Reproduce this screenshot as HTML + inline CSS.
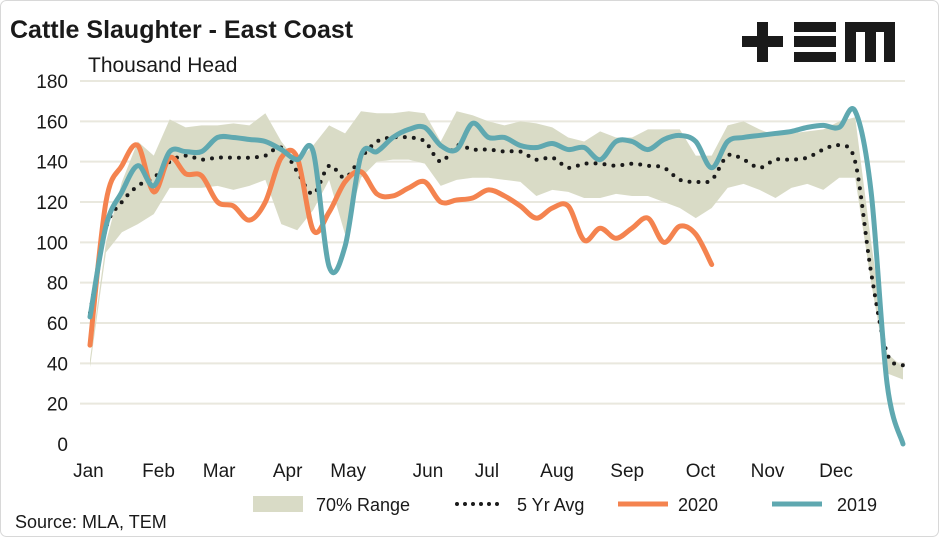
<!DOCTYPE html>
<html><head><meta charset="utf-8"><style>
html,body{margin:0;padding:0;background:#fff}
svg{display:block;font-family:"Liberation Sans",sans-serif}
</style></head><body>
<svg id="c" width="939" height="537" viewBox="0 0 939 537" xmlns="http://www.w3.org/2000/svg">
<rect x="0.5" y="0.5" width="938" height="536" rx="6" fill="#fff" stroke="#d8d8d8"/>
<text x="10" y="38" font-size="25" font-weight="bold" fill="#1a1a1a">Cattle Slaughter - East Coast</text>
<text x="88" y="72" font-size="21" fill="#1a1a1a">Thousand Head</text>
<g fill="#1a1a1a">
<rect x="742" y="36" width="41" height="11"/><rect x="757" y="22" width="11" height="40"/>
<rect x="794" y="22" width="42" height="10"/><rect x="794" y="36" width="42" height="11"/><rect x="794" y="52" width="42" height="10"/>
<rect x="845" y="22" width="50" height="10"/><rect x="845" y="22" width="11" height="40"/><rect x="865" y="22" width="11" height="40"/><rect x="884" y="22" width="11" height="40"/>
</g>
<g id="grid"></g><g id="band"></g><g id="lines"></g><g id="axes"></g>
<g>
<rect x="253" y="496" width="50" height="16" fill="#d9dbc6"/>
<text x="316" y="511" font-size="18" fill="#1a1a1a">70% Range</text>
<line x1="457" y1="504" x2="505" y2="504" stroke="#1a1a1a" stroke-width="4" stroke-linecap="round" stroke-dasharray="0 8"/>
<text x="517" y="511" font-size="18" fill="#1a1a1a">5 Yr Avg</text>
<line x1="618" y1="504" x2="668" y2="504" stroke="#f4834f" stroke-width="5"/>
<text x="678" y="511" font-size="18" fill="#1a1a1a">2020</text>
<line x1="772" y1="504" x2="822" y2="504" stroke="#5fa8b0" stroke-width="5"/>
<text x="837" y="511" font-size="18" fill="#1a1a1a">2019</text>
</g>
<text x="15" y="528" font-size="18" fill="#1a1a1a">Source: MLA, TEM</text>
</svg>
<script>
const yTicks=[0,20,40,60,80,100,120,140,160,180];
const months=["Jan","Feb","Mar","Apr","May","Jun","Jul","Aug","Sep","Oct","Nov","Dec"];
const monthWeeks=[-0.1,4.3,8.1,12.4,16.2,21.2,24.9,29.3,33.7,38.3,42.5,46.8];
const rangeUpper=[42,100,130,150,143,161,157,158,158,159,158,164,150,140,148,158,154,165,164,164,165,164,150,165,163,160,158,160,159,157,152,150,155,152,152,156,156,156,143,143,158,160,156,153,154,155,156,160,162,100,45,38];
const rangeLower=[38,95,105,109,114,127,127,127,128,126,128,131,109,106,116,131,104,132,140,141,141,139,128,131,132,132,131,130,123,126,125,122,122,124,123,123,120,117,112,117,127,129,126,122,127,129,126,132,132,80,35,32];
const avg5yr=[65,107,120,128,132,140,143,141,142,142,142,143,147,135,124,138,132,142,150,152,152,150,140,148,146,146,145,145,141,142,137,139,139,138,139,138,137,131,130,131,143,141,137,141,141,142,146,148,140,85,45,39];
const y2020=[49,120,138,148,125,142,134,133,120,118,111,120,142,142,106,115,130,135,124,123,127,130,120,121,122,126,123,118,112,117,118,101,107,102,107,112,100,108,104,89];
const y2019=[63,108,125,138,128,145,145,145,152,152,151,150,146,141,145,88,98,143,145,152,156,157,148,146,159,152,152,148,147,149,146,147,141,150,150,146,151,153,150,137,150,152,153,154,155,157,158,157,165,125,30,0];
const NS="http://www.w3.org/2000/svg";
const X=w=>90+w*(813/51);
const Y=v=>444-v*(363/180);
function mk(tag,attrs,parent){const e=document.createElementNS(NS,tag);for(const k in attrs)e.setAttribute(k,attrs[k]);parent.appendChild(e);return e;}
function smooth(pts){let d="M"+pts[0][0]+","+pts[0][1];for(let i=0;i<pts.length-1;i++){const p0=pts[i-1]||pts[i],p1=pts[i],p2=pts[i+1],p3=pts[i+2]||p2;const t=0.5/3;d+=" C"+(p1[0]+(p2[0]-p0[0])*t)+","+(p1[1]+(p2[1]-p0[1])*t)+" "+(p2[0]-(p3[0]-p1[0])*t)+","+(p2[1]-(p3[1]-p1[1])*t)+" "+p2[0]+","+p2[1];}return d;}
const grid=document.getElementById('grid'),axes=document.getElementById('axes'),band=document.getElementById('band'),lines=document.getElementById('lines');
yTicks.forEach(t=>{
 if(t>0){const g=mk('line',{x1:80,x2:905,y1:Y(t),y2:Y(t),stroke:'#e9e8de','stroke-width':2},grid);
 
 }
 const l=mk('text',{x:68,y:Y(t)+7,'font-size':19,'text-anchor':'end',fill:'#1a1a1a'},axes);l.textContent=t;
 
 
});
months.forEach((m,i)=>{const l=mk('text',{x:X(monthWeeks[i]),y:477,'font-size':19,'text-anchor':'middle',fill:'#1a1a1a'},axes);l.textContent=m;
 
 });
let pts=rangeUpper.map((v,i)=>X(i)+","+Y(v)).concat(rangeLower.map((v,i)=>[i,v]).reverse().map(p=>X(p[0])+","+Y(p[1])));
const b=mk('polygon',{points:pts.join(" "),fill:'#d9dbc6'},band);


const a=mk('path',{d:smooth(avg5yr.map((v,i)=>[X(i),Y(v)])),fill:'none',stroke:'#1a1a1a','stroke-width':4,'stroke-linecap':'round','stroke-dasharray':'0 9'},lines);


const o=mk('path',{d:smooth(y2020.map((v,i)=>[X(i),Y(v)])),fill:'none',stroke:'#f4834f','stroke-width':5,'stroke-linecap':'round','stroke-linejoin':'round'},lines);


const t=mk('path',{d:smooth(y2019.map((v,i)=>[X(i),Y(v)])),fill:'none',stroke:'#5fa8b0','stroke-width':5,'stroke-linecap':'round','stroke-linejoin':'round'},lines);


</script>
</body></html>
